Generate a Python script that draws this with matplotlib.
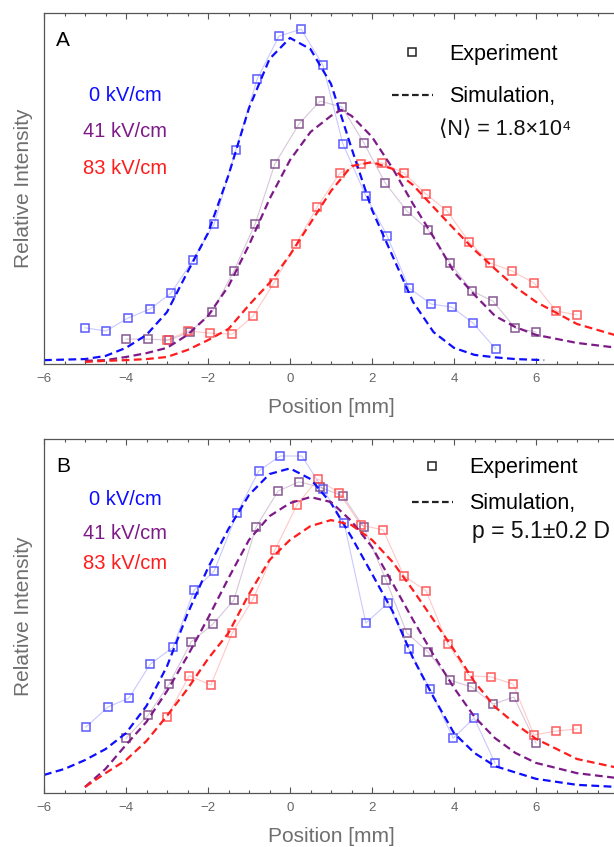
import numpy as np
import matplotlib
matplotlib.use('Agg')
import matplotlib.pyplot as plt
from matplotlib.lines import Line2D
from matplotlib.ticker import MultipleLocator

plt.rcParams['font.family'] = ['Liberation Sans', 'DejaVu Sans']

# field labels
fields = ['0 kV/cm', '41 kV/cm', '83 kV/cm']

# ---- panel A : experiment (relative intensity) ----
a_x_0 = [-5.0, -4.49, -3.95, -3.41, -2.90, -2.37, -1.85, -1.32, -0.80, -0.27,
         0.27, 0.80, 1.29, 1.85, 2.37, 2.90, 3.44, 3.95, 4.46, 5.02]
a_y_0 = [0.103, 0.094, 0.131, 0.157, 0.202, 0.296, 0.399, 0.610, 0.812, 0.934,
         0.954, 0.852, 0.627, 0.479, 0.365, 0.217, 0.171, 0.162, 0.117, 0.043]
a_x_41 = [-4.0, -3.46, -2.95, -2.44, -1.90, -1.37, -0.85, -0.37, 0.22, 0.73,
          1.27, 1.80, 2.32, 2.85, 3.37, 3.90, 4.44, 4.95, 5.49, 6.0]
a_y_41 = [0.071, 0.071, 0.068, 0.091, 0.148, 0.265, 0.399, 0.570, 0.684, 0.749,
          0.732, 0.630, 0.516, 0.436, 0.382, 0.288, 0.208, 0.179, 0.103, 0.091]
a_x_83 = [-3.0, -2.49, -1.95, -1.41, -0.90, -0.39, 0.15, 0.66, 1.22, 1.73,
          2.24, 2.78, 3.32, 3.83, 4.37, 4.88, 5.41, 5.95, 6.49, 7.0]
a_y_83 = [0.068, 0.094, 0.088, 0.085, 0.137, 0.231, 0.342, 0.447, 0.544, 0.570,
          0.573, 0.544, 0.484, 0.436, 0.348, 0.288, 0.265, 0.231, 0.151, 0.140]

# ---- panel A : simulation ----
a_sim_x_0 = [-6, -5, -4.5, -4, -3.5, -3, -2.5, -2, -1.5, -1, -0.5, 0, 0.5, 1,
             1.5, 2, 2.5, 3, 3.5, 4, 4.5, 5, 5.5, 6.2]
a_sim_y_0 = [0.011, 0.014, 0.023, 0.046, 0.083, 0.148, 0.262, 0.373, 0.538, 0.729,
             0.869, 0.929, 0.897, 0.798, 0.615, 0.439, 0.308, 0.177, 0.091, 0.046,
             0.026, 0.019, 0.014, 0.011]
a_sim_x_41 = [-5, -4.5, -4, -3.5, -3, -2.5, -2, -1.5, -1, -0.5, 0, 0.5, 1, 1.25,
              1.5, 2, 2.5, 3, 3.5, 4, 4.5, 5, 5.5, 6, 7, 8]
a_sim_y_41 = [0.009, 0.011, 0.020, 0.031, 0.046, 0.083, 0.137, 0.222, 0.339, 0.470,
              0.581, 0.661, 0.707, 0.724, 0.707, 0.647, 0.558, 0.456, 0.362, 0.262,
              0.197, 0.137, 0.105, 0.083, 0.060, 0.046]
a_sim_x_83 = [-5, -4.5, -4, -3.5, -3, -2.5, -2, -1.5, -1, -0.5, 0, 0.5, 1, 1.5,
              2, 2.5, 3, 3.5, 4, 4.5, 5, 5.5, 6, 7, 8]
a_sim_y_83 = [0.006, 0.009, 0.011, 0.014, 0.020, 0.040, 0.068, 0.100, 0.168, 0.231,
              0.311, 0.402, 0.493, 0.564, 0.575, 0.556, 0.510, 0.447, 0.385, 0.325,
              0.271, 0.219, 0.177, 0.114, 0.080]

# ---- panel B : experiment ----
b_x_0 = [-4.98, -4.44, -3.93, -3.41, -2.85, -2.34, -1.85, -1.29, -0.76, -0.24,
         0.29, 0.80, 1.32, 1.85, 2.39, 2.90, 3.41, 3.98, 4.49, 5.0]
b_y_0 = [0.186, 0.243, 0.268, 0.364, 0.412, 0.573, 0.627, 0.791, 0.910, 0.952,
         0.952, 0.859, 0.763, 0.480, 0.537, 0.407, 0.294, 0.155, 0.212, 0.085]
b_x_41 = [-4.0, -3.46, -2.95, -2.41, -1.88, -1.37, -0.83, -0.29, 0.22, 0.73,
          1.29, 1.80, 2.34, 2.85, 3.37, 3.90, 4.44, 4.95, 5.46, 6.0]
b_y_41 = [0.155, 0.220, 0.308, 0.427, 0.477, 0.545, 0.751, 0.853, 0.879, 0.864,
          0.839, 0.751, 0.602, 0.452, 0.398, 0.319, 0.299, 0.251, 0.271, 0.141]
b_x_83 = [-3.0, -2.46, -1.93, -1.41, -0.90, -0.37, 0.17, 0.68, 1.20, 1.73,
          2.27, 2.78, 3.32, 3.85, 4.37, 4.90, 5.44, 5.95, 6.49, 7.0]
b_y_83 = [0.215, 0.331, 0.305, 0.452, 0.548, 0.686, 0.814, 0.887, 0.847, 0.757,
          0.743, 0.613, 0.571, 0.421, 0.331, 0.328, 0.308, 0.164, 0.175, 0.181]

# ---- panel B : simulation ----
b_sim_x_0 = [-6, -5.5, -5, -4.5, -4, -3.5, -3, -2.5, -2, -1.5, -1, -0.5, 0, 0.5,
             1, 1.5, 2, 2.5, 3, 3.5, 4, 4.5, 5, 6, 7, 8]
b_sim_y_0 = [0.051, 0.068, 0.093, 0.124, 0.169, 0.246, 0.358, 0.506, 0.636, 0.746,
             0.842, 0.901, 0.917, 0.887, 0.819, 0.723, 0.619, 0.514, 0.381, 0.271,
             0.169, 0.113, 0.076, 0.040, 0.023, 0.017]
b_sim_x_41 = [-5, -4.5, -4, -3.5, -3, -2.5, -2, -1.5, -1, -0.5, 0, 0.5, 1, 1.5,
              2, 2.5, 3, 3.5, 4, 4.5, 5, 5.5, 6, 7, 8]
b_sim_y_41 = [0.017, 0.068, 0.136, 0.201, 0.288, 0.387, 0.494, 0.607, 0.715, 0.782,
              0.819, 0.836, 0.822, 0.768, 0.695, 0.593, 0.489, 0.390, 0.297, 0.215,
              0.155, 0.113, 0.085, 0.056, 0.042]
b_sim_x_83 = [-5, -4.5, -4, -3.5, -3, -2.5, -2, -1.5, -1, -0.5, 0, 0.5, 1, 1.5,
              2, 2.5, 3, 3.5, 4, 4.5, 5, 5.5, 6, 7, 8]
b_sim_y_83 = [0.017, 0.056, 0.093, 0.147, 0.218, 0.294, 0.379, 0.452, 0.562, 0.658,
              0.715, 0.754, 0.771, 0.757, 0.715, 0.653, 0.573, 0.489, 0.404, 0.314,
              0.243, 0.195, 0.153, 0.096, 0.071]

sim_colors = ['#0d0dff', '#7e1a88', '#ff1c1c']
exp_colors = ['#4a4aff', '#7a4585', '#ff4a4a']
gray = '#6e6e6e'


def panel(ax, exp, sim, letter, note, leg_xy, lspace, note_xy, note_size, field_y):
    for (x, y), c in zip(exp, exp_colors):
        ax.plot(x, y, color=c, lw=0.8, alpha=0.3)
        ax.plot(x, y, ls='none', marker='s', ms=5.2, mfc='none', mec=c, mew=1.1, alpha=0.9)
    for (x, y), c in zip(sim, sim_colors):
        ax.plot(x, y, color=c, lw=1.6, ls=(0, (3.5, 2.0)))

    ax.set_xlim(-6, 8)
    ax.set_ylim(0, 1)
    ax.xaxis.set_major_locator(MultipleLocator(2))
    ax.xaxis.set_minor_locator(MultipleLocator(0.5))
    ax.tick_params(axis='x', which='both', direction='in', top=True, bottom=True,
                   color='#555555', labelsize=9.5, labelcolor='#666666', pad=6.5)
    ax.tick_params(axis='x', which='major', length=4, width=0.8)
    ax.tick_params(axis='x', which='minor', length=2.5, width=0.8)
    ax.tick_params(axis='y', left=False, labelleft=False)
    for s in ax.spines.values():
        s.set_color('#555555')
        s.set_linewidth(0.9)

    ax.set_xlabel('Position [mm]', fontsize=15, color=gray, labelpad=9)
    ax.set_ylabel('Relative Intensity', fontsize=15, color=gray, labelpad=8)

    ax.text(0.033, 0.922, letter, transform=ax.transAxes, fontsize=15,
            ha='center', va='center', color='black')
    for lab, c, fy in zip(fields, sim_colors, field_y):
        ax.text(0.141, fy, lab, transform=ax.transAxes, fontsize=14.5,
                ha='center', va='center', color=c)

    handles = [Line2D([], [], ls='none', marker='s', ms=5.2, mfc='none', mec='#222222', mew=1.1),
               Line2D([], [], color='#222222', lw=1.6, ls=(0, (3.0, 1.5)))]
    ax.legend(handles, ['Experiment', 'Simulation,'], loc='upper left', bbox_to_anchor=leg_xy,
              frameon=False, fontsize=15.5, handlelength=1.9, handletextpad=0.75,
              labelspacing=lspace, borderpad=0, borderaxespad=0)
    ax.text(note_xy[0], note_xy[1], note, transform=ax.transAxes, fontsize=note_size,
            ha='center', va='center', color='#111111')


fig = plt.figure(figsize=(6.14, 8.47), dpi=100)

axA = fig.add_axes([44 / 614, 1 - 364 / 847, 574 / 614, 351 / 847])
panel(axA,
      [(a_x_0, a_y_0), (a_x_41, a_y_41), (a_x_83, a_y_83)],
      [(a_sim_x_0, a_sim_y_0), (a_sim_x_41, a_sim_y_41), (a_sim_x_83, a_sim_y_83)],
      'A', '\u27e8N\u27e9 = 1.8\u00d710\u2074', (0.606, 0.913), 1.0, (0.803, 0.668), 15.5,
      [0.766, 0.661, 0.556])

axB = fig.add_axes([44 / 614, 1 - 793 / 847, 574 / 614, 354 / 847])
panel(axB,
      [(b_x_0, b_y_0), (b_x_41, b_y_41), (b_x_83, b_y_83)],
      [(b_sim_x_0, b_sim_y_0), (b_sim_x_41, b_sim_y_41), (b_sim_x_83, b_sim_y_83)],
      'B', 'p = 5.1\u00b10.2 D', (0.641, 0.949), 0.7, (0.866, 0.740), 16.5,
      [0.828, 0.734, 0.647])

fig.savefig('out.png', dpi=100)
